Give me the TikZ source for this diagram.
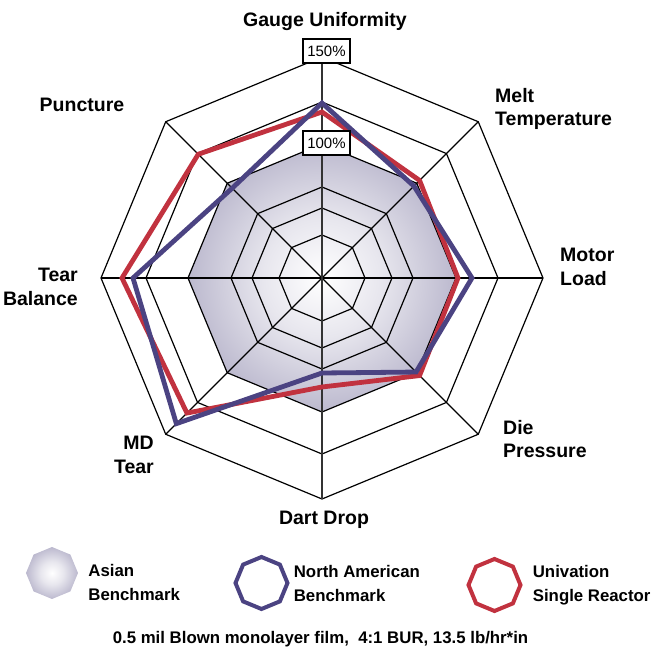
\documentclass[tikz,border=0pt]{standalone}
\usepackage{fontspec}
\setmainfont{Liberation Sans}
\usetikzlibrary{shapes.geometric}
\usetikzlibrary{positioning}
\definecolor{asiangray}{RGB}{138,133,170}
\definecolor{nablue}{RGB}{75,67,130}
\definecolor{univred}{RGB}{193,50,63}
\pgfdeclareradialshading{asianshade}{\pgfpoint{0bp}{0bp}}{%
    color(0bp)=(white); color(11bp)=(white!80!asiangray);
    color(24bp)=(white!45!asiangray); color(35bp)=(asiangray);
    color(50bp)=(asiangray)}
\tikzset{x=1pt,y=1pt,
    every node/.style={
        inner sep=0pt},
    axis label/.style={
        font=\fontsize{19.5}{23.5}\selectfont\bfseries},
    legend text/.style={
        font=\fontsize{16.8}{24}\selectfont\bfseries,
        align=left},
    grid line/.style={
        draw=black,
        line width=1.2pt},
    pct box/.style={
        draw,
        fill=white,
        line width=1.2pt,
        minimum width=47pt,
        minimum height=24pt,
        font=\fontsize{15}{17}\selectfont},
    series/.style={
        line width=4.8pt,
        line join=miter},
    legend oct/.style={
        regular polygon,
        regular polygon sides=8,
        shape border rotate=22.5,
        minimum size=52pt}}

\begin{document}
\begin{tikzpicture}
    \useasboundingbox (-322,-372) rectangle (329,278);
    \coordinate (c) at (0,0);

    % Asian benchmark
    \path[shading=asianshade,draw=black,line width=1.2pt]
        (0:134) \foreach \a in {45,90,...,315} {-- (\a:134)} -- cycle;

    % rings and spokes
    \foreach \r in {43,70,91,176,221}
        \draw[grid line] (0:\r) \foreach \a in {45,90,...,315} {-- (\a:\r)} -- cycle;
    \foreach \a in {0,45,135,180,225,315}
        \draw[grid line] (c) -- (\a:221);
    \coordinate (top) at (0,227);
    \coordinate (bottom) at (0,-221);
    \draw[line width=2pt,black!80] (bottom) -- (top);

    % data points
    \foreach \v [count=\i from 0] in {175,130,150,133,95,206,189,127}
        \coordinate (na\i) at ({90-45*\i}:\v);
    \foreach \v [count=\i from 0] in {166,138,136,138,109,191,200,175}
        \coordinate (uv\i) at ({90-45*\i}:\v);

    \draw[series,univred] (uv0) -- (uv1) -- (uv2) -- (uv3) -- (uv4) -- (uv5) -- (uv6) -- (uv7) -- cycle;
    \draw[series,nablue] (na0) -- (na1) -- (na2) -- (na3) -- (na4) -- (na5) -- (na6) -- (na7) -- cycle;

    \node[pct box] (p150) at (4.5,227) {150\%};
    \node[pct box] (p100) at (4.5,135) {100\%};

    % axis labels
    \node[axis label,anchor=base] (gauge) at (3,251) {Gauge Uniformity};
    \node[axis label,anchor=north west,align=left] (melt) at (173,190) {Melt\\Temperature};
    \node[axis label,anchor=north west,align=left] (motor) at (238,30) {Motor\\Load};
    \node[axis label,anchor=north west,align=left] (die) at (181,-142) {Die\\Pressure};
    \node[axis label,anchor=base] (dart) at (2,-247) {Dart Drop};
    \node[axis label,anchor=north east,align=right] (mdtear) at (-168,-158) {MD\\Tear};
    \node[axis label,anchor=north east,align=right] (tearbal) at (-244,10) {Tear\\Balance};
    \node[axis label,anchor=base] (puncture) at (-240,166) {Puncture};

    % legend
    \node[legend oct,shading=asianshade] (asian) at (-270,-295) {};
    \node[legend oct,draw=nablue,line width=4pt] (na) at (-60.5,-305) {};
    \node[legend oct,draw=univred,line width=4pt] (uv) at (172.5,-307) {};
    \node[legend text,right=10pt of asian,yshift=-9pt] (asiantext) {Asian\\Benchmark};
    \node[legend text,right=4pt of na] (natext) {North American\\Benchmark};
    \node[legend text,right=10pt of uv] (uvtext) {Univation\\Single Reactor};

    \node[font=\fontsize{16.8}{20}\selectfont\bfseries,anchor=base] (note) at (-1.5,-366)
        {0.5 mil Blown monolayer film,\ \ 4:1 BUR, 13.5 lb/hr*in};
\end{tikzpicture}
\end{document}
